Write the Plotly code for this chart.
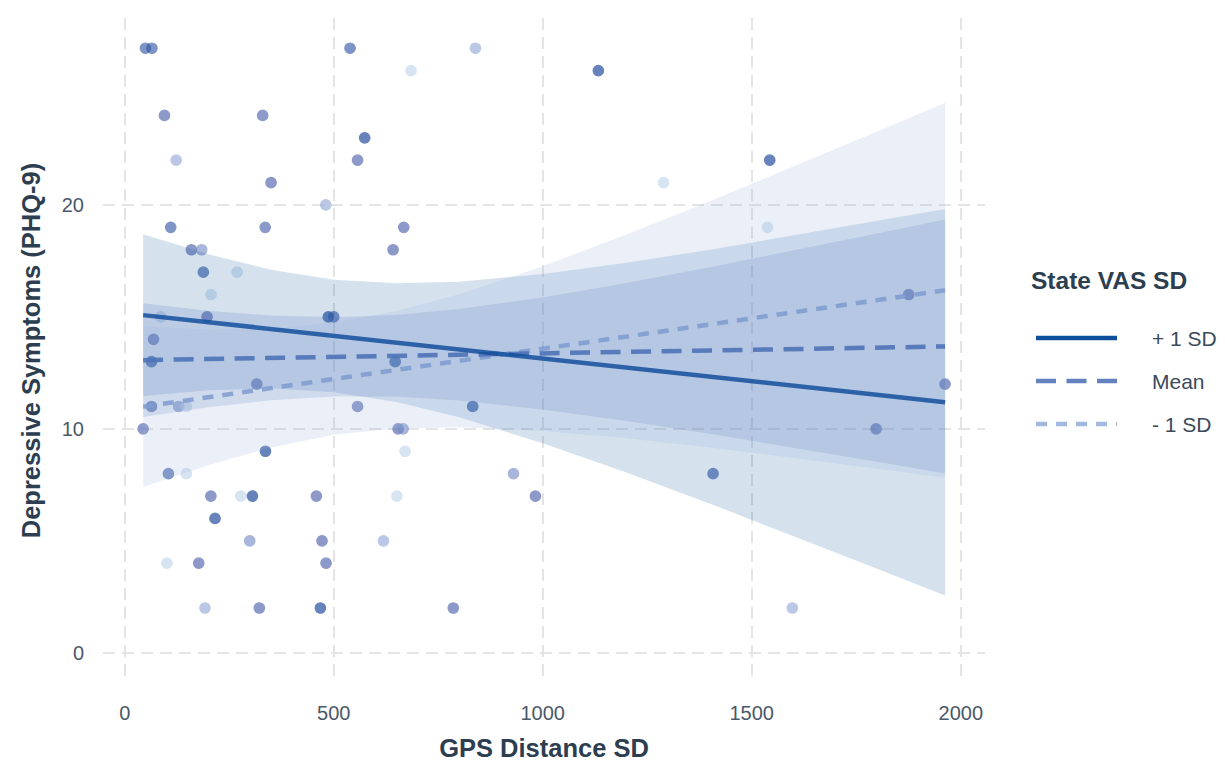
import plotly.graph_objects as go

# ---------------- data ----------------
gps_sd = [49.5, 65, 539, 95, 330, 574, 123, 557, 350, 481,
          110, 336, 667.5, 159.5, 184, 642, 188, 269, 206.5, 86,
          197, 487, 500, 69, 64, 647, 316, 64, 129, 147.5,
          557, 44, 654, 666, 336.6, 104.5, 147.5, 206, 277.5, 305.5,
          458.5, 651, 216, 299, 472, 619, 101, 177, 481.6, 192,
          322, 468, 685, 839, 1133, 1289, 832.5, 670.6, 930, 982.5,
          786, 1543, 1537.5, 1875.6, 1962.5, 1797.5, 1407.5, 1597]
phq9 = [27, 27, 27, 24, 24, 23, 22, 22, 21, 20,
        19, 19, 19, 18, 18, 18, 17, 17, 16, 15,
        15, 15, 15, 14, 13, 13, 12, 11, 11, 11,
        11, 10, 10, 10, 9, 8, 8, 7, 7, 7,
        7, 7, 6, 5, 5, 5, 4, 4, 4, 2,
        2, 2, 26, 27, 26, 21, 11, 9, 8, 7,
        2, 22, 19, 16, 12, 10, 8, 2]
# point shade (1 = lightest, 6 = darkest State VAS SD)
vas_level = [5, 5, 5, 4, 4, 6, 2, 4, 4, 2,
             5, 4, 4, 4, 3, 4, 5, 1, 1, 1,
             4, 6, 5, 4, 6, 6, 4, 5, 3, 1,
             4, 4, 4, 3, 6, 5, 1, 4, 1, 6,
             4, 1, 6, 3, 4, 2, 1, 4, 4, 2,
             4, 6, 1, 2, 6, 1, 6, 1, 3, 4,
             4, 6, 1, 4, 4, 4, 5, 2]

# fitted lines (simple slopes) and their confidence bands
line_x = [44, 1962.5]
plus_fit = [15.08, 11.19]
mean_fit = [13.07, 13.68]
minus_fit = [10.99, 16.19]

band_x = [44, 200, 350, 500, 650, 800, 1000, 1200, 1400, 1600, 1800, 1962.5]
plus_lo = [11.47, 11.73, 11.81, 11.64, 11.20, 10.52, 9.36, 8.05, 6.66, 5.21, 3.75, 2.56]
plus_hi = [18.69, 17.80, 17.11, 16.66, 16.50, 16.57, 16.92, 17.42, 18.00, 18.63, 19.29, 19.82]
mean_lo = [10.53, 10.96, 11.28, 11.44, 11.44, 11.27, 10.87, 10.35, 9.78, 9.16, 8.53, 8.01]
mean_hi = [15.61, 15.28, 15.06, 14.98, 15.08, 15.35, 15.87, 16.51, 17.22, 17.96, 18.73, 19.35]
minus_lo = [7.40, 8.38, 9.17, 9.74, 10.02, 10.07, 9.90, 9.58, 9.17, 8.71, 8.22, 7.82]
minus_hi = [14.58, 14.44, 14.48, 14.74, 15.26, 16.01, 17.26, 18.68, 20.17, 21.71, 23.28, 24.56]

legend_labels = ["+ 1 SD", "Mean", "- 1 SD"]
x_ticks = [0, 500, 1000, 1500, 2000]
y_ticks = [0, 10, 20]

# ---------------- styling ----------------
FONT = "Liberation Sans, Arial, Helvetica, sans-serif"
TITLE_C = "#2c3e50"
TICK_C = "#4a5868"
point_scale = [[0.0, "rgb(192,214,236)"], [0.2, "rgb(149,169,214)"],
               [0.4, "rgb(117,140,197)"], [0.6, "rgb(75,95,170)"],
               [0.8, "rgb(51,86,165)"], [1.0, "rgb(14,61,149)"]]

fig = go.Figure()

fig.add_trace(go.Scatter(
    x=gps_sd, y=phq9, mode="markers", showlegend=False, hoverinfo="skip",
    marker=dict(size=10.5, color=vas_level, colorscale=point_scale, cmin=1, cmax=6,
                opacity=0.63,
                line=dict(width=1.2, color=vas_level, colorscale=point_scale, cmin=1, cmax=6))))

bands = [(plus_lo, plus_hi, "rgba(8,81,156,0.17)"),
         (mean_lo, mean_hi, "rgba(90,120,190,0.20)"),
         (minus_lo, minus_hi, "rgba(155,180,220,0.20)")]
for lo, hi, col in bands:
    fig.add_trace(go.Scatter(
        x=band_x + band_x[::-1], y=hi + lo[::-1], mode="lines", fill="toself",
        fillcolor=col, line=dict(width=0), showlegend=False, hoverinfo="skip"))

line_specs = [(minus_fit, "rgba(126,155,207,0.85)", "11px,9px"),
              (mean_fit, "rgba(78,114,183,0.9)", "20px,10.5px"),
              (plus_fit, "rgba(13,75,155,0.82)", "solid")]
for ys, col, dash in line_specs:
    fig.add_trace(go.Scatter(x=line_x, y=ys, mode="lines", showlegend=False,
                             line=dict(color=col, width=4.5, dash=dash), hoverinfo="skip"))

# ---------------- legend (drawn in paper coords) ----------------
L, R, T, B = 103, 240, 18, 89
W, H = 1225, 772
pw, ph = W - L - R, H - T - B

def px_x(p):
    return (p - L) / pw

def px_y(p):
    return (H - B - p) / ph

leg_cols = ["#0e4f9c", "#6582c0", "#a3b8de"]
leg_dash = ["solid", "20px,10.5px", "11px,9px"]
leg_y = [338, 381, 424]
for lab, col, dsh, yy in zip(legend_labels, leg_cols, leg_dash, leg_y):
    fig.add_shape(type="line", xref="paper", yref="paper",
                  x0=px_x(1036), x1=px_x(1117), y0=px_y(yy), y1=px_y(yy),
                  line=dict(color=col, width=4.5, dash=dsh))
    fig.add_annotation(xref="paper", yref="paper", x=px_x(1150), y=px_y(yy),
                       xanchor="left", yanchor="middle", showarrow=False, text=lab,
                       font=dict(family=FONT, size=21, color="#3b4a5a"))
fig.add_annotation(xref="paper", yref="paper", x=px_x(1029), y=px_y(281),
                   xanchor="left", yanchor="middle", showarrow=False,
                   text="<b>State VAS SD</b>",
                   font=dict(family=FONT, size=24.5, color=TITLE_C))

grid = dict(showgrid=True, gridcolor="#e4e4e4", gridwidth=2, griddash="12px,7px",
            zeroline=False, showline=False, ticks="")

fig.update_layout(
    width=W, height=H, margin=dict(l=L, r=R, t=T, b=B, autoexpand=False),
    paper_bgcolor="white", plot_bgcolor="white",
    font=dict(family=FONT),
    xaxis=dict(range=[-52, 2058], tickvals=x_ticks, ticktext=[str(v) for v in x_ticks],
               tickfont=dict(size=20, color=TICK_C), ticklabelstandoff=16,
               title=dict(text="<b>GPS Distance SD</b>", standoff=16,
                          font=dict(size=25.5, color=TITLE_C)), **grid),
    yaxis=dict(range=[-1.35, 28.35], tickvals=y_ticks, ticktext=[str(v) for v in y_ticks],
               tickfont=dict(size=20, color=TICK_C), ticklabelstandoff=18,
               title=dict(text="<b>Depressive Symptoms (PHQ-9)</b>", standoff=13,
                          font=dict(size=25.5, color=TITLE_C)), **grid),
)

fig.write_html("out.html")
